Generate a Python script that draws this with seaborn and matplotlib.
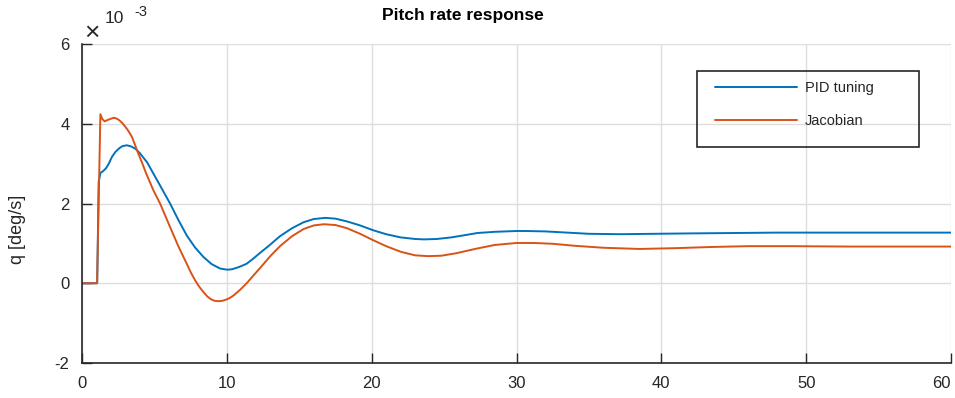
import matplotlib
matplotlib.use("Agg")
import matplotlib.pyplot as plt
from matplotlib.patches import Rectangle
import pandas as pd
import seaborn as sns

# values in units of 1e-3 deg/s
t_pid = [0, 1.05, 1.15, 1.28, 1.45, 1.65, 1.85, 2.07, 2.3, 2.55, 2.8, 3.1, 3.4, 3.7,
         4.0, 4.5, 4.93, 5.5, 6.08, 6.65, 7.23, 7.8, 8.38, 8.95, 9.53, 10.03, 10.35,
         10.7, 11.0, 11.37, 11.8, 12.29, 13.0, 13.67, 14.5, 15.3, 16.0, 16.8, 17.5,
         18.3, 19.2, 20.1, 21.0, 22.0, 23.0, 23.6, 24.5, 25.5, 26.5, 27.3, 28.5, 30.0,
         30.7, 32.0, 33.5, 35.0, 37.2, 39.5, 42.0, 45.0, 48.0, 52.0, 56.0, 60.0]
q_pid = [0, 0, 2.55, 2.77, 2.81, 2.88, 3.0, 3.17, 3.29, 3.38, 3.44, 3.46, 3.43, 3.37,
         3.26, 3.03, 2.75, 2.38, 2.0, 1.59, 1.2, 0.9, 0.66, 0.48, 0.37, 0.34, 0.35,
         0.39, 0.43, 0.49, 0.61, 0.76, 0.97, 1.18, 1.38, 1.53, 1.61, 1.64, 1.62,
         1.55, 1.45, 1.33, 1.23, 1.15, 1.11, 1.10, 1.11, 1.15, 1.21, 1.26, 1.29, 1.31,
         1.31, 1.30, 1.27, 1.24, 1.23, 1.24, 1.25, 1.26, 1.27, 1.27, 1.27, 1.27]

t_jac = [0, 1.04, 1.27, 1.4, 1.56, 1.8, 2.19, 2.4, 2.6, 2.8, 3.0, 3.2, 3.45, 3.65,
         3.89, 4.15, 4.4, 4.93, 5.39, 6.08, 6.65, 7.23, 7.5, 7.8, 8.1, 8.38, 8.65, 8.9,
         9.15, 9.42, 9.7, 9.95, 10.2, 10.45, 10.9, 11.37, 11.8, 12.29, 13.0, 13.67,
         14.5, 15.3, 16.0, 16.7, 17.5, 18.3, 19.2, 20.1, 21.0, 22.0, 23.0, 23.9, 24.8,
         25.8, 27.26, 28.5, 30.0, 31.2, 32.5, 34.0, 36.0, 38.5, 41.0, 43.5, 46.0, 49.0,
         53.0, 56.0, 60.0]
q_jac = [0, 0, 4.24, 4.12, 4.06, 4.1, 4.15, 4.13, 4.08, 4.01, 3.92, 3.82, 3.67, 3.48,
         3.25, 3.02, 2.78, 2.33, 2.0, 1.41, 0.93, 0.49, 0.28, 0.08, -0.09, -0.22, -0.33,
         -0.40, -0.44, -0.45, -0.44, -0.41, -0.37, -0.31, -0.17, 0.0, 0.18, 0.38, 0.68,
         0.93, 1.18, 1.36, 1.45, 1.48, 1.46, 1.38, 1.24, 1.08, 0.93, 0.79, 0.70, 0.68,
         0.69, 0.75, 0.87, 0.96, 1.01, 1.01, 0.99, 0.94, 0.89, 0.86, 0.88, 0.91, 0.93,
         0.93, 0.92, 0.92, 0.92]

labels = ["PID tuning", "Jacobian"]
colors = ["#0072BD", "#D95319"]
x_ticks = [0, 10, 20, 30, 40, 50, 60]
y_ticks = [-2, 0, 2, 4, 6]

df = pd.concat([
    pd.DataFrame({"t": t_pid, "q": q_pid, "case": labels[0]}),
    pd.DataFrame({"t": t_jac, "q": q_jac, "case": labels[1]}),
], ignore_index=True)

sns.set_theme(style="ticks")
plt.rcParams["font.family"] = ["Liberation Sans", "DejaVu Sans"]
plt.rcParams["axes.unicode_minus"] = False

fig = plt.figure(figsize=(9.55, 3.98), dpi=100)
ax = fig.add_axes([82 / 955, 35 / 398, 869 / 955, 319 / 398])

sns.lineplot(data=df, x="t", y="q", hue="case", palette=colors, estimator=None,
             sort=False, linewidth=1.4, ax=ax)

ax.set_xlim(0, 60)
ax.set_ylim(-2, 6)
ax.set_xticks(x_ticks)
ax.set_yticks(y_ticks)
ax.grid(True, color="#dedede", linewidth=1)
ax.set_axisbelow(True)
for side in ["top", "right"]:
    ax.spines[side].set_visible(False)
for side in ["left", "bottom"]:
    ax.spines[side].set_color("#262626")
    ax.spines[side].set_linewidth(1.2)
ax.tick_params(direction="in", length=7, width=1, colors="#262626",
               labelsize=12, labelcolor="#262626", pad=9)
# last x label sits flush with the right edge, as in the original
ax.get_xticklabels()[-1].set_horizontalalignment("right")

ax.set_xlabel("")
ax.set_ylabel("q [deg/s]", fontsize=13, color="#262626")
ax.yaxis.set_label_coords(-0.065, 0.42)

ax.text(0.003, 0.998, "\u00d7", transform=ax.transAxes, fontsize=19,
        color="#262626", ha="left", va="bottom")
ax.text(0.026, 1.055, "10", transform=ax.transAxes, fontsize=12.5,
        color="#262626", ha="left", va="bottom")
ax.text(0.060, 1.079, "-3", transform=ax.transAxes, fontsize=10.5,
        color="#262626", ha="left", va="bottom")

fig.text(463 / 955, 0.962, "Pitch rate response", fontsize=12.5, fontweight="bold",
         ha="center", va="center", color="#000000")

leg = ax.legend(loc="upper left", bbox_to_anchor=(0.7284, 0.884), fontsize=10.5,
                frameon=False, handlelength=5.6, handletextpad=0.55,
                labelspacing=1.3, borderpad=0, borderaxespad=0)
for txt in leg.get_texts():
    txt.set_color("#262626")
ax.add_patch(Rectangle((0.7077, 0.677), 0.2555, 0.2384, transform=ax.transAxes,
                       fill=False, edgecolor="#262626", linewidth=1.2, zorder=5))

fig.savefig("out.png", dpi=100)
